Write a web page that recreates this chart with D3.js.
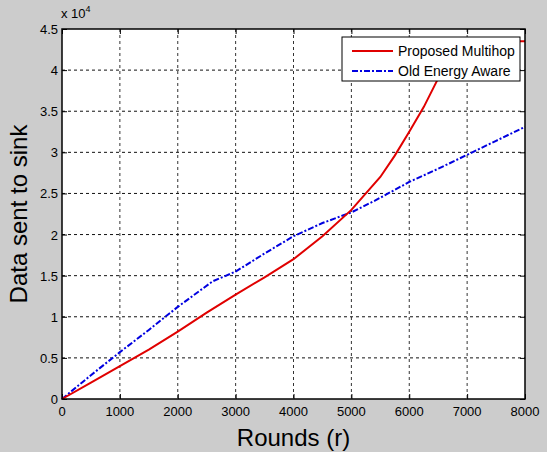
<!DOCTYPE html>
<html>
<head>
<meta charset="utf-8">
<script src="https://cdn.jsdelivr.net/npm/d3@7"></script>
<style>
  body { margin: 0; background: #fff; }
  text { font-family: "Liberation Sans", Arial, sans-serif; fill: #000; }
</style>
</head>
<body>
<svg id="canvas"></svg>
<script>
// rounds (x) and data sent to sink (y)
const multihopRounds = [0, 500, 1000, 1500, 2000, 2500, 3000, 3500, 4000, 4500, 5000, 5250, 5500, 5750, 6000, 6250, 6500, 6750, 6850, 7500, 8000];
const multihopData = [0, 2000, 4000, 6000, 8200, 10500, 12700, 14800, 17000, 19800, 23000, 25000, 27000, 29600, 32500, 35500, 39000, 43000, 43500, 43500, 43500];
const oldRounds = [0, 500, 1000, 1500, 2000, 2600, 3000, 3500, 4000, 4500, 5000, 5400, 6000, 6500, 7000, 7500, 8000];
const oldData = [0, 2900, 5700, 8400, 11200, 14300, 15500, 17700, 19800, 21400, 22700, 24100, 26400, 28000, 29700, 31400, 33100];
const xTicks = [0, 1000, 2000, 3000, 4000, 5000, 6000, 7000, 8000];
const yTicks = [0, 5000, 10000, 15000, 20000, 25000, 30000, 35000, 40000, 45000];
const legendLabels = ["Proposed Multihop", "Old Energy Aware"];

function graph() {
  const width = 547;
  const height = 456;

  const svg = d3.select("#canvas").attr("width", width).attr("height", height);

  // figure background
  svg.append("rect")
    .attr("width", width)
    .attr("height", height - 4)
    .attr("fill", "#cccccc");

  const margin = { top: 29, right: 22, bottom: 57, left: 62 };
  const w = width - margin.left - margin.right;
  const h = height - margin.top - margin.bottom;

  const g = svg.append("g").attr("transform", `translate(${margin.left},${margin.top})`);

  const x = d3.scaleLinear().domain([0, 8000]).range([0, w]);
  const y = d3.scaleLinear().domain([0, 45000]).range([h, 0]);

  g.append("rect").attr("width", w).attr("height", h).attr("fill", "#fff");

  // dashed grid
  g.selectAll(".vgrid")
    .data(xTicks.slice(1, -1))
    .enter()
    .append("line")
    .attr("x1", (d) => x(d)).attr("x2", (d) => x(d))
    .attr("y1", 0).attr("y2", h)
    .attr("stroke", "#333")
    .attr("stroke-dasharray", "3,3");

  g.selectAll(".hgrid")
    .data(yTicks.slice(1, -1))
    .enter()
    .append("line")
    .attr("x1", 0).attr("x2", w)
    .attr("y1", (d) => y(d)).attr("y2", (d) => y(d))
    .attr("stroke", "#111")
    .attr("stroke-dasharray", "3,3");

  // axes with inward ticks, labels outside
  const fmtY = (d) => d / 10000;
  const bottom = g.append("g")
    .attr("transform", `translate(0,${h})`)
    .call(d3.axisTop(x).tickValues(xTicks).tickSize(5).tickFormat(""));
  const top = g.append("g").call(d3.axisBottom(x).tickValues(xTicks).tickSize(5).tickFormat(""));
  const left = g.append("g").call(d3.axisRight(y).tickValues(yTicks).tickSize(5).tickFormat(""));
  const right = g.append("g")
    .attr("transform", `translate(${w},0)`)
    .call(d3.axisLeft(y).tickValues(yTicks).tickSize(5).tickFormat(""));
  [bottom, top, left, right].forEach((a) => {
    a.select(".domain").remove();
    a.selectAll("line").attr("stroke", "#000");
  });

  g.selectAll(".xlab")
    .data(xTicks)
    .enter()
    .append("text")
    .attr("x", (d) => x(d))
    .attr("y", h + 17)
    .attr("text-anchor", "middle")
    .attr("font-size", 13)
    .text((d) => d);

  g.selectAll(".ylab")
    .data(yTicks)
    .enter()
    .append("text")
    .attr("x", -4)
    .attr("y", (d) => y(d) + 5)
    .attr("text-anchor", "end")
    .attr("font-size", 13)
    .text(fmtY);

  // exponent label
  const ex = g.append("text").attr("x", -1).attr("y", -11).attr("font-size", 13);
  ex.append("tspan").text("x 10");
  ex.append("tspan").attr("dy", -6).attr("font-size", 9).text("4");

  // data lines
  const line = d3.line()
    .x((d) => x(d[0]))
    .y((d) => y(d[1]));

  g.append("path")
    .datum(d3.zip(oldRounds, oldData))
    .attr("fill", "none")
    .attr("stroke", "#0000e0")
    .attr("stroke-width", 2)
    .attr("stroke-dasharray", "6,2,2,2")
    .attr("d", line);

  g.append("path")
    .datum(d3.zip(multihopRounds, multihopData))
    .attr("fill", "none")
    .attr("stroke", "#e00000")
    .attr("stroke-width", 2)
    .attr("d", line);

  // plot box
  g.append("rect")
    .attr("width", w).attr("height", h)
    .attr("fill", "none")
    .attr("stroke", "#000")
    .attr("stroke-width", 1.5);

  // legend
  const lg = g.append("g").attr("transform", `translate(${342 - margin.left},${37 - margin.top})`);
  lg.append("rect")
    .attr("width", 178).attr("height", 44)
    .attr("fill", "#fff")
    .attr("stroke", "#000");
  const styles = [
    { color: "#e00000", dash: null },
    { color: "#0000e0", dash: "6,2,2,2" },
  ];
  legendLabels.forEach((name, i) => {
    const yy = 14 + i * 20;
    lg.append("line")
      .attr("x1", 10).attr("x2", 51)
      .attr("y1", yy).attr("y2", yy)
      .attr("stroke", styles[i].color)
      .attr("stroke-width", 2)
      .attr("stroke-dasharray", styles[i].dash);
    lg.append("text")
      .attr("x", 56)
      .attr("y", yy + 5)
      .attr("font-size", 14)
      .text(name);
  });

  // axis titles
  svg.append("text")
    .attr("x", margin.left + w / 2)
    .attr("y", 446)
    .attr("text-anchor", "middle")
    .attr("font-size", 24)
    .text("Rounds (r)");

  svg.append("text")
    .attr("transform", `translate(27,${margin.top + h / 2}) rotate(-90)`)
    .attr("text-anchor", "middle")
    .attr("font-size", 24)
    .text("Data sent to sink");
}

graph();
</script>
</body>
</html>
